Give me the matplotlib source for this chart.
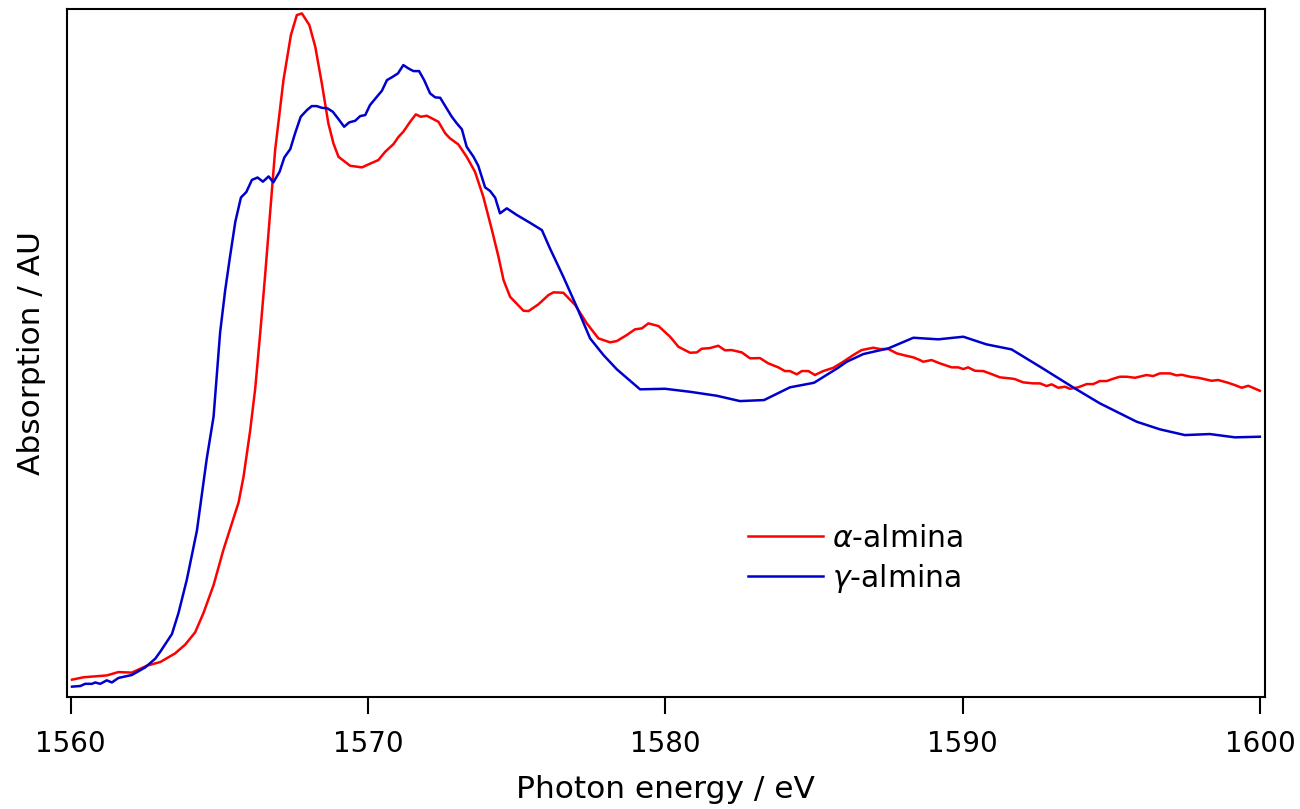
import numpy as np
import matplotlib
matplotlib.use("Agg")
import matplotlib.pyplot as plt

# alpha-alumina spectrum (energy in eV, absorption in AU)
alpha_e = [1560.05, 1560.44, 1561.22, 1561.61, 1562.06, 1562.57, 1563.02, 1563.52, 1563.86, 1564.19,
           1564.47, 1564.81, 1565.14, 1565.65, 1565.82, 1566.04, 1566.21, 1566.38, 1566.54, 1566.71,
           1566.88, 1567.16, 1567.41, 1567.61, 1567.78, 1568.03, 1568.23, 1568.45, 1568.67, 1568.84,
           1569.01, 1569.40, 1569.80, 1570.02, 1570.35, 1570.58, 1570.86, 1571.03, 1571.19, 1571.42,
           1571.61, 1571.78, 1571.98, 1572.37, 1572.60, 1572.76, 1573.04, 1573.32, 1573.60, 1573.88,
           1574.17, 1574.39, 1574.56, 1574.78, 1575.23, 1575.40, 1575.73, 1576.07, 1576.24, 1576.57,
           1576.97, 1577.36, 1577.75, 1578.14, 1578.37, 1578.70, 1578.98, 1579.21, 1579.43, 1579.77,
           1580.16, 1580.44, 1580.83, 1581.06, 1581.22, 1581.50, 1581.78, 1582.01, 1582.23, 1582.57,
           1582.85, 1583.18, 1583.46, 1583.80, 1584.02, 1584.19, 1584.42, 1584.59, 1584.81, 1585.03,
           1585.31, 1585.65, 1585.98, 1586.32, 1586.60, 1586.99, 1587.22, 1587.50, 1587.78, 1588.00,
           1588.34, 1588.56, 1588.67, 1588.95, 1589.23, 1589.63, 1589.85, 1590.02, 1590.18, 1590.41,
           1590.69, 1590.97, 1591.25, 1591.59, 1591.75, 1592.03, 1592.37, 1592.60, 1592.82, 1592.99,
           1593.21, 1593.44, 1593.60, 1593.88, 1594.17, 1594.39, 1594.61, 1594.84, 1595.06, 1595.28,
           1595.51, 1595.79, 1596.18, 1596.40, 1596.63, 1596.97, 1597.19, 1597.36, 1597.64, 1597.92,
           1598.37, 1598.59, 1598.92, 1599.15, 1599.38, 1599.60, 1599.99]
alpha_a = [0.0254, 0.0289, 0.0316, 0.0365, 0.0357, 0.0459, 0.0512, 0.0639, 0.0768, 0.0946,
           0.1228, 0.1637, 0.2151, 0.2844, 0.3228, 0.3895, 0.4510, 0.5330, 0.6151, 0.7076,
           0.7997, 0.9020, 0.9678, 0.9971, 0.9995, 0.9825, 0.9507, 0.8972, 0.8387, 0.8095,
           0.7899, 0.7768, 0.7744, 0.7788, 0.7851, 0.7972, 0.8085, 0.8191, 0.8265, 0.8411,
           0.8519, 0.8484, 0.8499, 0.8411, 0.8241, 0.8168, 0.8080, 0.7899, 0.7680, 0.7314,
           0.6827, 0.6437, 0.6096, 0.5852, 0.5648, 0.5643, 0.5741, 0.5877, 0.5917, 0.5911,
           0.5731, 0.5463, 0.5244, 0.5186, 0.5205, 0.5292, 0.5376, 0.5390, 0.5463, 0.5424,
           0.5268, 0.5121, 0.5034, 0.5039, 0.5092, 0.5102, 0.5136, 0.5069, 0.5073, 0.5039,
           0.4952, 0.4956, 0.4879, 0.4820, 0.4766, 0.4766, 0.4718, 0.4766, 0.4766, 0.4708,
           0.4766, 0.4814, 0.4902, 0.5000, 0.5073, 0.5107, 0.5088, 0.5088, 0.5025, 0.5000,
           0.4966, 0.4927, 0.4902, 0.4927, 0.4879, 0.4820, 0.4820, 0.4795, 0.4820, 0.4770,
           0.4766, 0.4722, 0.4674, 0.4659, 0.4649, 0.4601, 0.4586, 0.4586, 0.4547, 0.4572,
           0.4522, 0.4537, 0.4507, 0.4528, 0.4576, 0.4576, 0.4620, 0.4620, 0.4654, 0.4683,
           0.4683, 0.4668, 0.4708, 0.4693, 0.4732, 0.4732, 0.4703, 0.4712, 0.4683, 0.4668,
           0.4624, 0.4635, 0.4595, 0.4561, 0.4522, 0.4551, 0.4478]

# gamma-alumina spectrum
gamma_e = [1560.05, 1560.33, 1560.49, 1560.72, 1560.83, 1561.00, 1561.22, 1561.39, 1561.61, 1562.06,
           1562.51, 1562.85, 1563.02, 1563.41, 1563.63, 1563.91, 1564.25, 1564.58, 1564.81, 1565.03,
           1565.20, 1565.37, 1565.54, 1565.73, 1565.91, 1566.10, 1566.29, 1566.47, 1566.66, 1566.82,
           1567.03, 1567.19, 1567.39, 1567.55, 1567.74, 1567.95, 1568.11, 1568.28, 1568.45, 1568.64,
           1568.82, 1569.01, 1569.20, 1569.37, 1569.57, 1569.74, 1569.91, 1570.07, 1570.30, 1570.47,
           1570.64, 1570.80, 1571.01, 1571.19, 1571.36, 1571.53, 1571.72, 1571.89, 1572.09, 1572.26,
           1572.43, 1572.60, 1572.82, 1572.99, 1573.16, 1573.32, 1573.55, 1573.71, 1573.94, 1574.11,
           1574.28, 1574.44, 1574.67, 1575.01, 1575.45, 1575.85, 1576.12, 1576.57, 1577.02, 1577.47,
           1577.92, 1578.37, 1579.15, 1579.99, 1580.83, 1581.73, 1582.51, 1583.32, 1584.19, 1585.00,
           1585.76, 1586.10, 1586.66, 1587.50, 1588.34, 1589.18, 1590.02, 1590.80, 1591.64, 1592.60,
           1593.71, 1594.61, 1595.85, 1596.63, 1597.47, 1598.31, 1599.15, 1599.99]
gamma_a = [0.0152, 0.0161, 0.0193, 0.0193, 0.0213, 0.0193, 0.0244, 0.0213, 0.0279, 0.0322,
           0.0433, 0.0561, 0.0664, 0.0921, 0.1228, 0.1715, 0.2433, 0.3484, 0.4099, 0.5330,
           0.5946, 0.6459, 0.6946, 0.7304, 0.7383, 0.7561, 0.7596, 0.7535, 0.7612, 0.7525,
           0.7680, 0.7890, 0.8012, 0.8241, 0.8484, 0.8582, 0.8640, 0.8640, 0.8615, 0.8607,
           0.8557, 0.8450, 0.8338, 0.8402, 0.8425, 0.8494, 0.8509, 0.8655, 0.8776, 0.8864,
           0.9020, 0.9060, 0.9118, 0.9240, 0.9191, 0.9152, 0.9152, 0.9020, 0.8826, 0.8768,
           0.8762, 0.8640, 0.8484, 0.8387, 0.8300, 0.8045, 0.7899, 0.7768, 0.7452, 0.7398,
           0.7300, 0.7072, 0.7145, 0.7047, 0.6934, 0.6827, 0.6560, 0.6145, 0.5706, 0.5244,
           0.5000, 0.4791, 0.4499, 0.4507, 0.4463, 0.4405, 0.4327, 0.4342, 0.4528, 0.4595,
           0.4800, 0.4902, 0.5015, 0.5098, 0.5253, 0.5230, 0.5268, 0.5156, 0.5083, 0.4829,
           0.4528, 0.4294, 0.4025, 0.3914, 0.3830, 0.3845, 0.3797, 0.3806]

xticks = [1560, 1570, 1580, 1590, 1600]

plt.rcParams['font.family'] = ['DejaVu Sans']
plt.rcParams['mathtext.fontset'] = 'dejavusans'

fig = plt.figure(figsize=(13, 8.09), dpi=100)
ax = fig.add_axes([0.0515, 0.1384, 0.9215, 0.8505])

ax.plot(alpha_e, alpha_a, color='#ff0000', lw=1.8, label=r'$\alpha$-almina')
ax.plot(gamma_e, gamma_a, color='#0000cc', lw=1.8, label=r'$\gamma$-almina')

ax.set_xlim(1559.88, 1600.16)
ax.set_ylim(0, 1.006)
ax.set_xticks(xticks)
ax.set_xticklabels([str(t) for t in xticks])
ax.set_yticks([])
ax.tick_params(axis='x', direction='out', length=12, width=1.5, labelsize=20, pad=12)
for s in ax.spines.values():
    s.set_linewidth(1.5)

ax.set_xlabel('Photon energy / eV', fontsize=22.5, labelpad=12)
ax.set_ylabel('Absorption / AU', fontsize=22.5, labelpad=15)

ax.legend(loc='upper left', bbox_to_anchor=(0.5686, 0.252), frameon=False, fontsize=21.5,
          handlelength=2.5, handletextpad=0.3, labelspacing=0.3, borderpad=0, borderaxespad=0)

fig.savefig('out.png', dpi=100)
